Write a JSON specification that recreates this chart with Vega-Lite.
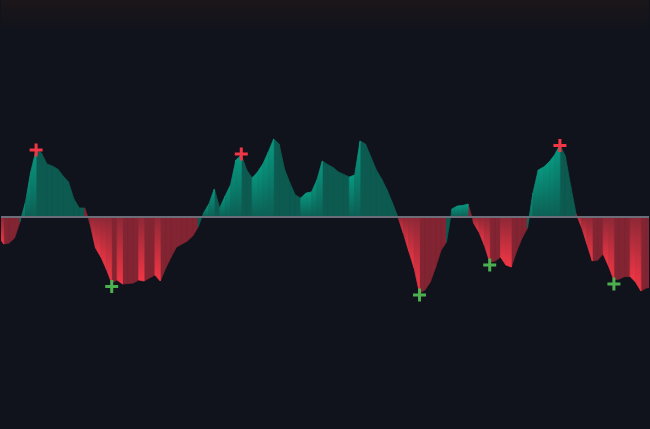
{
  "$schema": "https://vega.github.io/schema/vega-lite/v6.json",
  "width": 650,
  "height": 429,
  "padding": 0,
  "autosize": {"type": "fit", "contains": "padding"},
  "background": "#11131c",
  "config": {
    "view": {
      "stroke": null,
      "fill": {"gradient": "linear", "x1": 0, "y1": 0, "x2": 0, "y2": 1,
        "stops": [{"offset": 0, "color": "#1b1619"}, {"offset": 0.07, "color": "#11131c"}, {"offset": 1, "color": "#11131c"}]}
    }
  },
  "resolve": {"scale": {"color": "independent"}},
  "data": {"values": [
    {"k":-1,"v":-0.19},{"k":0,"v":-0.27},{"k":1,"v":-0.26},{"k":2,"v":-0.21},{"k":3,"v":-0.05},
    {"k":4,"v":0.14},{"k":5,"v":0.45},{"k":6,"v":0.67},{"k":7,"v":0.64},{"k":8,"v":0.53},
    {"k":9,"v":0.51},{"k":10,"v":0.48},{"k":11,"v":0.41},{"k":12,"v":0.35},{"k":13,"v":0.18},
    {"k":14,"v":0.09},{"k":15,"v":0.09},{"k":16,"v":-0.07},{"k":17,"v":-0.31},{"k":18,"v":-0.40},
    {"k":19,"v":-0.52},{"k":20,"v":-0.66},{"k":21,"v":-0.63},{"k":22,"v":-0.67},{"k":23,"v":-0.665},
    {"k":24,"v":-0.66},{"k":25,"v":-0.63},{"k":26,"v":-0.64},{"k":27,"v":-0.61},{"k":28,"v":-0.58},
    {"k":29,"v":-0.64},{"k":30,"v":-0.51},{"k":31,"v":-0.40},{"k":32,"v":-0.30},{"k":33,"v":-0.27},
    {"k":34,"v":-0.24},{"k":35,"v":-0.19},{"k":36,"v":-0.10},{"k":37,"v":0.04},{"k":38,"v":0.13},
    {"k":39,"v":0.28},{"k":40,"v":0.09},{"k":41,"v":0.21},{"k":42,"v":0.32},{"k":43,"v":0.57},
    {"k":44,"v":0.62},{"k":45,"v":0.47},{"k":46,"v":0.39},{"k":47,"v":0.45},{"k":48,"v":0.53},
    {"k":49,"v":0.65},{"k":50,"v":0.78},{"k":51,"v":0.73},{"k":52,"v":0.48},{"k":53,"v":0.34},
    {"k":54,"v":0.22},{"k":55,"v":0.19},{"k":56,"v":0.24},{"k":57,"v":0.25},{"k":58,"v":0.37},
    {"k":59,"v":0.56},{"k":60,"v":0.525},{"k":61,"v":0.495},{"k":62,"v":0.45},{"k":63,"v":0.425},
    {"k":64,"v":0.40},{"k":65,"v":0.42},{"k":66,"v":0.76},{"k":67,"v":0.73},{"k":68,"v":0.60},
    {"k":69,"v":0.47},{"k":70,"v":0.38},{"k":71,"v":0.27},{"k":72,"v":0.14},{"k":73,"v":0},
    {"k":74,"v":-0.16},{"k":75,"v":-0.34},{"k":76,"v":-0.51},{"k":77,"v":-0.76},{"k":78,"v":-0.73},
    {"k":79,"v":-0.65},{"k":80,"v":-0.50},{"k":81,"v":-0.33},{"k":82,"v":-0.25},{"k":83,"v":0.08},
    {"k":84,"v":0.11},{"k":85,"v":0.115},{"k":86,"v":0.13},{"k":87,"v":-0.06},{"k":88,"v":-0.15},
    {"k":89,"v":-0.28},{"k":90,"v":-0.45},{"k":91,"v":-0.44},{"k":92,"v":-0.40},{"k":93,"v":-0.48},
    {"k":94,"v":-0.50},{"k":95,"v":-0.34},{"k":96,"v":-0.21},{"k":97,"v":-0.11},{"k":98,"v":0.24},
    {"k":99,"v":0.47},{"k":100,"v":0.50},{"k":101,"v":0.55},{"k":102,"v":0.62},{"k":103,"v":0.72},
    {"k":104,"v":0.61},{"k":105,"v":0.31},{"k":106,"v":0.03},{"k":107,"v":-0.10},{"k":108,"v":-0.27},
    {"k":109,"v":-0.44},{"k":110,"v":-0.43},{"k":111,"v":-0.37},{"k":112,"v":-0.49},{"k":113,"v":-0.63},
    {"k":114,"v":-0.62},{"k":115,"v":-0.595},{"k":116,"v":-0.595},{"k":117,"v":-0.65},{"k":118,"v":-0.74},
    {"k":119,"v":-0.71},{"k":120,"v":-0.70}
  ]},
  "layer": [
    {
      "transform": [
        {"window": [{"op": "lead", "field": "v", "as": "vn"}, {"op": "lead", "field": "k", "as": "kn"}], "sort": [{"field": "k"}]},
        {"filter": "datum.vn != null"},
        {"calculate": "(datum.vn > 0 || (datum.vn == 0 && datum.v > 0)) ? 'up' : 'down'", "as": "dir"},
        {"calculate": "abs(datum.vn) > abs(datum.v) ? 'grow' : 'fade'", "as": "trend"},
        {"calculate": "datum.k", "as": "seg"},
        {"fold": ["v", "vn"], "as": ["end", "val"]},
        {"calculate": "datum.end == 'v' ? datum.k : datum.kn", "as": "px"}
      ],
      "encoding": {
        "x": {"field": "px", "type": "quantitative", "scale": {"domain": [-0.5, 119.5], "nice": false, "zero": false}, "axis": null},
        "y": {"field": "val", "type": "quantitative", "stack": null, "scale": {"domain": [-2.12, 2.17], "nice": false, "zero": false}, "axis": null},
        "y2": {"datum": 0},
        "detail": {"field": "seg", "type": "nominal"}
      },
      "layer": [
        {
          "transform": [{"filter": "datum.trend == 'fade'"}],
          "mark": {"type": "area", "clip": true, "strokeWidth": 0.8},
          "encoding": {
            "color": {"field": "dir", "type": "nominal", "scale": {"domain": ["up", "down"], "range": ["#0d5a50", "#822432"]}, "legend": null},
            "stroke": {"field": "dir", "type": "nominal", "scale": {"domain": ["up", "down"], "range": ["#0d5a50", "#822432"]}, "legend": null}
          }
        },
        {
          "transform": [{"filter": "datum.trend == 'grow' && datum.dir == 'up'"}],
          "mark": {"type": "area", "clip": true, "strokeWidth": 0.8,
            "fill": {"gradient": "linear", "x1": 0, "y1": 0, "x2": 0, "y2": 1,
              "stops": [{"offset": 0, "color": "#089981"}, {"offset": 1, "color": "#0c5f54"}]},
            "stroke": {"gradient": "linear", "x1": 0, "y1": 0, "x2": 0, "y2": 1,
              "stops": [{"offset": 0, "color": "#089981"}, {"offset": 1, "color": "#0c5f54"}]}}
        },
        {
          "transform": [{"filter": "datum.trend == 'grow' && datum.dir == 'down'"}],
          "mark": {"type": "area", "clip": true, "strokeWidth": 0.8,
            "fill": {"gradient": "linear", "x1": 0, "y1": 0, "x2": 0, "y2": 1,
              "stops": [{"offset": 0, "color": "#8e2836"}, {"offset": 1, "color": "#f23645"}]},
            "stroke": {"gradient": "linear", "x1": 0, "y1": 0, "x2": 0, "y2": 1,
              "stops": [{"offset": 0, "color": "#8e2836"}, {"offset": 1, "color": "#f23645"}]}}
        }
      ]
    },
    {
      "mark": {"type": "rule", "color": "#6b6e78", "strokeWidth": 2},
      "encoding": {"y": {"datum": 0, "type": "quantitative"}}
    },
    {
      "data": {"values": [
        {"k": 6, "v": 0.67, "kind": "peak"},
        {"k": 44, "v": 0.63, "kind": "peak"},
        {"k": 103, "v": 0.715, "kind": "peak"},
        {"k": 20, "v": -0.695, "kind": "trough"},
        {"k": 77, "v": -0.78, "kind": "trough"},
        {"k": 90, "v": -0.48, "kind": "trough"},
        {"k": 113, "v": -0.67, "kind": "trough"}
      ]},
      "mark": {"type": "point", "shape": "M-1,0H1M0,-1V1", "filled": false, "strokeWidth": 3, "size": 169, "opacity": 1},
      "encoding": {
        "x": {"field": "k", "type": "quantitative"},
        "y": {"field": "v", "type": "quantitative"},
        "color": {"field": "kind", "type": "nominal", "scale": {"domain": ["peak", "trough"], "range": ["#f23645", "#4caf50"]}, "legend": null}
      }
    }
  ]
}
